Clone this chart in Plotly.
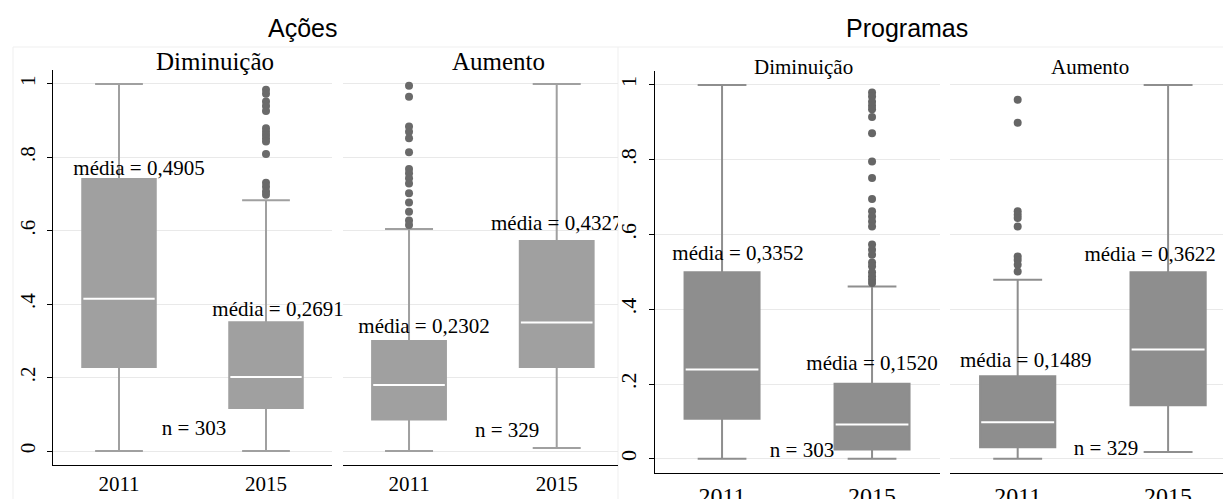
import plotly.graph_objects as go

# ---------------------------------------------------------------------------
# Data: box-plot summaries (quartiles, whisker ends, outliers, means)
# ---------------------------------------------------------------------------
years = ["2011", "2015"]
year_pos = [0, 1]
panel_titles = ["Ações", "Programas"]
group_titles = ["Diminuição", "Aumento"]
group_n = [303, 329]

y_tickvals = [0, 0.2, 0.4, 0.6, 0.8, 1]
y_ticktext = ["0", ".2", ".4", ".6", ".8", "1"]

# Ações - Diminuição
acoes_dim_q1 = [0.229, 0.117]
acoes_dim_med = [0.415, 0.202]
acoes_dim_q3 = [0.741, 0.351]
acoes_dim_lo = [0.0, 0.0]
acoes_dim_hi = [1.0, 0.683]
acoes_dim_mean = [0.4905, 0.2691]
acoes_dim_out = [[], [0.984, 0.973, 0.952, 0.940, 0.926, 0.879, 0.870, 0.861,
                      0.852, 0.843, 0.809, 0.731, 0.720, 0.707, 0.698]]

# Ações - Aumento
acoes_aum_q1 = [0.086, 0.229]
acoes_aum_med = [0.180, 0.350]
acoes_aum_q3 = [0.300, 0.572]
acoes_aum_lo = [0.0, 0.008]
acoes_aum_hi = [0.605, 1.0]
acoes_aum_mean = [0.2302, 0.4327]
acoes_aum_out = [[0.995, 0.965, 0.884, 0.870, 0.852, 0.814, 0.768, 0.757,
                  0.743, 0.729, 0.702, 0.677, 0.652, 0.628, 0.616], []]

# Programas - Diminuição
prog_dim_q1 = [0.107, 0.025]
prog_dim_med = [0.239, 0.092]
prog_dim_q3 = [0.499, 0.201]
prog_dim_lo = [0.0, 0.0]
prog_dim_hi = [1.0, 0.461]
prog_dim_mean = [0.3352, 0.1520]
prog_dim_out = [[], [0.980, 0.969, 0.955, 0.944, 0.935, 0.914, 0.871, 0.795,
                     0.751, 0.695, 0.662, 0.648, 0.635, 0.621, 0.573, 0.559,
                     0.546, 0.525, 0.515, 0.499, 0.488, 0.479, 0.470]]

# Programas - Aumento
prog_aum_q1 = [0.031, 0.143]
prog_aum_med = [0.098, 0.292]
prog_aum_q3 = [0.221, 0.499]
prog_aum_lo = [0.0, 0.018]
prog_aum_hi = [0.479, 1.0]
prog_aum_mean = [0.1489, 0.3622]
prog_aum_out = [[0.960, 0.899, 0.662, 0.653, 0.644, 0.621, 0.541, 0.532,
                 0.519, 0.501], []]

# ---------------------------------------------------------------------------
# Layout geometry (pixels) and styling
# ---------------------------------------------------------------------------
W, H = 1223, 499
SERIF = "Liberation Serif"
SANS = "Liberation Sans"
Y_RANGE = [-0.038, 1.038]
BOX_WIDTH = 0.5

panels = [
    dict(stats=(acoes_dim_q1, acoes_dim_med, acoes_dim_q3, acoes_dim_lo, acoes_dim_hi),
         mean=acoes_dim_mean, out=acoes_dim_out, n=group_n[0], title=group_titles[0],
         x0=53, x1=332, y0=70, y1=465, xr=[-0.449, 1.449], yaxis_line=True,
         fill="#a0a0a0", dot="#6a6a6a", tick_size=21, tick_standoff=0,
         ytick_size=21, title_size=25,
         title_x=215, title_y=61, clip_labels=False,
         mean_shift=[(20, 9), (12, 11)], n_pos=(0.51, 0.057)),
    dict(stats=(acoes_aum_q1, acoes_aum_med, acoes_aum_q3, acoes_aum_lo, acoes_aum_hi),
         mean=acoes_aum_mean, out=acoes_aum_out, n=group_n[1], title=group_titles[1],
         x0=343, x1=618, y0=70, y1=465, xr=[-0.447, 1.415], yaxis_line=False,
         fill="#a0a0a0", dot="#6a6a6a", tick_size=21, tick_standoff=0,
         ytick_size=21, title_size=25,
         title_x=498, title_y=61, clip_labels=True,
         mean_shift=[(15, 13), (0, 16)], n_pos=(0.664, 0.052)),
    dict(stats=(prog_dim_q1, prog_dim_med, prog_dim_q3, prog_dim_lo, prog_dim_hi),
         mean=prog_dim_mean, out=prog_dim_out, n=group_n[0], title=group_titles[0],
         x0=655, x1=940, y0=70.7, y1=473, xr=[-0.447, 1.453], yaxis_line=True,
         fill="#8e8e8e", dot="#666666", tick_size=24, tick_standoff=1,
         ytick_size=22, title_size=21,
         title_x=803, title_y=67, clip_labels=False,
         mean_shift=[(16, 17), (0, 19)], n_pos=(0.533, 0.020)),
    dict(stats=(prog_aum_q1, prog_aum_med, prog_aum_q3, prog_aum_lo, prog_aum_hi),
         mean=prog_aum_mean, out=prog_aum_out, n=group_n[1], title=group_titles[1],
         x0=950, x1=1223, y0=70.7, y1=473, xr=[-0.45, 1.365], yaxis_line=False,
         fill="#8e8e8e", dot="#666666", tick_size=24, tick_standoff=1,
         ytick_size=22, title_size=21,
         title_x=1090, title_y=67, clip_labels=False,
         mean_shift=[(8, 14), (-18, 16)], n_pos=(0.587, 0.025)),
]


def fmt_mean(v):
    return "média = " + f"{v:.4f}".replace(".", ",")


fig = go.Figure()
layout_axes = {}

for i, p in enumerate(panels, start=1):
    xa, ya = f"x{i}", f"y{i}"
    q1, med, q3, lo, hi = p["stats"]
    ppu_x = (p["x1"] - p["x0"]) / (p["xr"][1] - p["xr"][0])
    ppu_y = (p["y1"] - p["y0"]) / (Y_RANGE[1] - Y_RANGE[0])

    # boxes and whiskers
    fig.add_trace(go.Box(
        x=year_pos, q1=q1, median=med, q3=q3, lowerfence=lo, upperfence=hi,
        width=BOX_WIDTH, whiskerwidth=0.65, boxpoints=False,
        fillcolor=p["fill"], line=dict(color=p["fill"], width=2),
        xaxis=xa, yaxis=ya, hoverinfo="skip", showlegend=False,
    ))

    # white median bars
    mx, my = [], []
    half = BOX_WIDTH / 2 * 0.97
    for pos, m in zip(year_pos, med):
        mx += [pos - half, pos + half, None]
        my += [m, m, None]
    fig.add_trace(go.Scatter(
        x=mx, y=my, mode="lines", line=dict(color="white", width=2),
        xaxis=xa, yaxis=ya, hoverinfo="skip", showlegend=False,
    ))

    # outside values
    ox, oy = [], []
    for pos, vals in zip(year_pos, p["out"]):
        ox += [pos] * len(vals)
        oy += vals
    fig.add_trace(go.Scatter(
        x=ox, y=oy, mode="markers",
        marker=dict(color=p["dot"], size=8),
        xaxis=xa, yaxis=ya, hoverinfo="skip", showlegend=False, cliponaxis=False,
    ))

    # mean labels above each box
    tx, ty, tt = [], [], []
    for pos, top, m, (dx, dy) in zip(year_pos, q3, p["mean"], p["mean_shift"]):
        tx.append(pos + dx / ppu_x)
        ty.append(top + dy / ppu_y)
        tt.append(fmt_mean(m))
    fig.add_trace(go.Scatter(
        x=tx, y=ty, text=tt, mode="text", textposition="middle center",
        textfont=dict(family=SERIF, size=21, color="black"),
        xaxis=xa, yaxis=ya, hoverinfo="skip", showlegend=False,
        cliponaxis=p["clip_labels"],
    ))

    # sample size label
    fig.add_trace(go.Scatter(
        x=[p["n_pos"][0]], y=[p["n_pos"][1]], text=[f"n = {p['n']}"],
        mode="text", textposition="middle center",
        textfont=dict(family=SERIF, size=21, color="black"),
        xaxis=xa, yaxis=ya, hoverinfo="skip", showlegend=False, cliponaxis=False,
    ))

    key = "" if i == 1 else str(i)
    layout_axes[f"xaxis{key}"] = dict(
        domain=[p["x0"] / W, p["x1"] / W], range=p["xr"], anchor=ya,
        tickvals=year_pos, ticktext=years, showgrid=False, zeroline=False,
        showline=True, linecolor="black", linewidth=1, ticks="",
        ticklabelstandoff=p["tick_standoff"], automargin=False,
        tickfont=dict(family=SERIF, size=p["tick_size"], color="black"),
        fixedrange=True,
    )
    layout_axes[f"yaxis{key}"] = dict(
        domain=[1 - p["y1"] / H, 1 - p["y0"] / H], range=Y_RANGE, anchor=xa,
        tickvals=y_tickvals, ticktext=y_ticktext, showgrid=True,
        gridcolor="#e9e9e9", gridwidth=1, zeroline=False,
        showline=p["yaxis_line"], linecolor="black", linewidth=1,
        ticks="outside" if p["yaxis_line"] else "", ticklen=5, tickcolor="black",
        showticklabels=p["yaxis_line"], tickangle=-90, ticklabelstandoff=4,
        automargin=False,
        tickfont=dict(family=SERIF, size=p["ytick_size"], color="black"),
        fixedrange=True,
    )

annotations = [
    dict(text=panel_titles[0], x=302 / W, y=1 - 28 / H, xref="paper", yref="paper",
         showarrow=False, xanchor="center", yanchor="middle",
         font=dict(family=SANS, size=25, color="black")),
    dict(text=panel_titles[1], x=907 / W, y=1 - 28 / H, xref="paper", yref="paper",
         showarrow=False, xanchor="center", yanchor="middle",
         font=dict(family=SANS, size=25, color="black")),
]
for p in panels:
    annotations.append(dict(
        text=p["title"], x=p["title_x"] / W, y=1 - p["title_y"] / H,
        xref="paper", yref="paper", showarrow=False,
        xanchor="center", yanchor="middle",
        font=dict(family=SERIF, size=p["title_size"], color="black"),
    ))

# faint outlines of the two graph regions
region_line = dict(color="#efefef", width=1)
shapes = [
    dict(type="line", xref="paper", yref="paper", x0=13 / W, x1=13 / W,
         y0=0, y1=1 - 47 / H, line=region_line, layer="below"),
    dict(type="line", xref="paper", yref="paper", x0=13 / W, x1=1,
         y0=1 - 47 / H, y1=1 - 47 / H, line=region_line, layer="below"),
    dict(type="line", xref="paper", yref="paper", x0=618 / W, x1=618 / W,
         y0=0, y1=1 - 47 / H, line=region_line, layer="below"),
]

fig.update_layout(
    template="none",
    width=W, height=H,
    margin=dict(l=0, r=0, t=0, b=0, autoexpand=False),
    paper_bgcolor="white", plot_bgcolor="white",
    showlegend=False,
    annotations=annotations,
    shapes=shapes,
    **layout_axes,
)

fig.write_html("out.html")
